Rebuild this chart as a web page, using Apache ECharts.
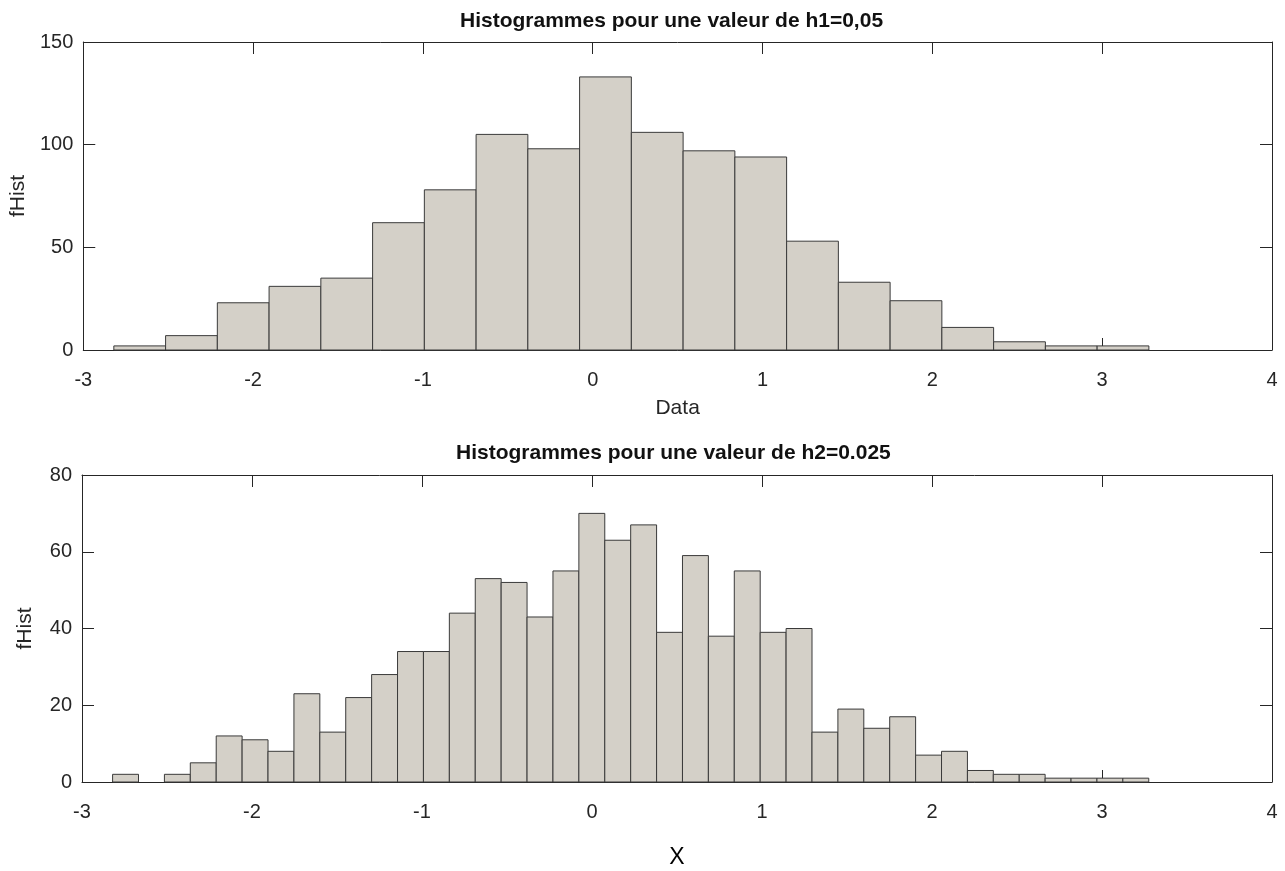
<!DOCTYPE html>
<html>
<head>
<meta charset="utf-8">
<script src="https://cdn.jsdelivr.net/npm/echarts@6/dist/echarts.min.js"></script>
<style>
  html, body { margin: 0; padding: 0; background: #fff; }
  #chart { width: 1285px; height: 871px; }
</style>
</head>
<body>
<div id="chart"></div>
<script>
// ---- data ----
const title1 = 'Histogrammes pour une valeur de h1=0,05';
const title2 = 'Histogrammes pour une valeur de h2=0.025';
const xTickMin = -3, xTickMax = 4, xTickStep = 1;
const y1Max = 150, y1Step = 50;
const y2Max = 80, y2Step = 20;
const binMin = -2.82;   // left edge of the first bin
const binMax = 3.275;   // right edge of the last bin
const h1Counts = [2, 7, 23, 31, 35, 62, 78, 105, 98, 133, 106, 97, 94, 53, 33, 24, 11, 4, 2, 2];
const h2Counts = [2, 0, 2, 5, 12, 11, 8, 23, 13, 22, 28, 34, 34, 44, 53, 52, 43, 55, 70, 63,
                  67, 39, 59, 38, 55, 39, 40, 13, 19, 14, 17, 7, 8, 3, 2, 2, 1, 1, 1, 1];

function binsFrom(counts) {
  const w = (binMax - binMin) / counts.length;
  return counts.map((c, i) => [binMin + i * w, binMin + (i + 1) * w, c]);
}

const FONT = '"Liberation Sans", Arial, sans-serif';
const AX = '#262626';
const FILL = '#d4d0c8';
const EDGE = '#3a3a3a';

function renderBin(params, api) {
  const c = api.value(2);
  if (!c) return null;
  const p0 = api.coord([api.value(0), c]);
  const p1 = api.coord([api.value(1), 0]);
  return {
    type: 'rect',
    shape: { x: p0[0], y: p0[1], width: p1[0] - p0[0], height: p1[1] - p0[1] },
    style: { fill: FILL, stroke: EDGE, lineWidth: 1 }
  };
}

const grids = [
  { left: 82, top: 42, width: 1190, height: 308 },
  { left: 82, top: 475, width: 1190, height: 307 }
];

function xAxes(gi, name, nameGap, nameSize, nameColor) {
  return [
    {
      gridIndex: gi, type: 'value', min: xTickMin, max: xTickMax, interval: xTickStep,
      position: 'bottom',
      axisLine: { show: true, onZero: false, lineStyle: { color: AX, width: 1 } },
      axisTick: { show: true, inside: true, length: 12, lineStyle: { color: AX } },
      axisLabel: { show: true, fontSize: 20, color: AX, fontFamily: FONT, margin: 20 },
      splitLine: { show: false },
      name: name, nameLocation: 'middle', nameGap: nameGap,
      nameTextStyle: { fontSize: nameSize, color: nameColor, fontFamily: FONT }
    },
    {
      gridIndex: gi, type: 'value', min: xTickMin, max: xTickMax, interval: xTickStep,
      position: 'top',
      axisLine: { show: true, onZero: false, lineStyle: { color: AX, width: 1 } },
      axisTick: { show: true, inside: true, length: 12, lineStyle: { color: AX } },
      axisLabel: { show: false },
      splitLine: { show: false }
    }
  ];
}

function yAxes(gi, max, step, nameGap) {
  return [
    {
      gridIndex: gi, type: 'value', min: 0, max: max, interval: step,
      position: 'left',
      axisLine: { show: true, onZero: false, lineStyle: { color: AX, width: 1 } },
      axisTick: { show: true, inside: true, length: 12, lineStyle: { color: AX } },
      axisLabel: { show: true, fontSize: 20, color: AX, fontFamily: FONT, margin: 10 },
      splitLine: { show: false },
      name: 'fHist', nameLocation: 'middle', nameGap: nameGap,
      nameTextStyle: { fontSize: 21, color: AX, fontFamily: FONT }
    },
    {
      gridIndex: gi, type: 'value', min: 0, max: max, interval: step,
      position: 'right',
      axisLine: { show: true, onZero: false, lineStyle: { color: AX, width: 1 } },
      axisTick: { show: true, inside: true, length: 12, lineStyle: { color: AX } },
      axisLabel: { show: false },
      splitLine: { show: false }
    }
  ];
}

const chart = echarts.init(document.getElementById('chart'), null, { renderer: 'canvas' });
chart.setOption({
  animation: false,
  backgroundColor: '#ffffff',
  title: [
    { text: title1, left: 460, top: 11, padding: 0,
      textStyle: { fontSize: 21, fontWeight: 'bold', color: '#111', fontFamily: FONT } },
    { text: title2, left: 456, top: 443, padding: 0,
      textStyle: { fontSize: 21, fontWeight: 'bold', color: '#111', fontFamily: FONT } }
  ],
  grid: grids,
  xAxis: [].concat(xAxes(0, 'Data', 48, 21, AX), xAxes(1, 'X', 64, 23, '#000')),
  yAxis: [].concat(yAxes(0, y1Max, y1Step, 44), yAxes(1, y2Max, y2Step, 46)),
  series: [
    { type: 'custom', xAxisIndex: 0, yAxisIndex: 0, z: 5, renderItem: renderBin,
      encode: { x: [0, 1], y: 2 }, data: binsFrom(h1Counts) },
    { type: 'custom', xAxisIndex: 2, yAxisIndex: 2, z: 5, renderItem: renderBin,
      encode: { x: [0, 1], y: 2 }, data: binsFrom(h2Counts) }
  ]
});
</script>
</body>
</html>
